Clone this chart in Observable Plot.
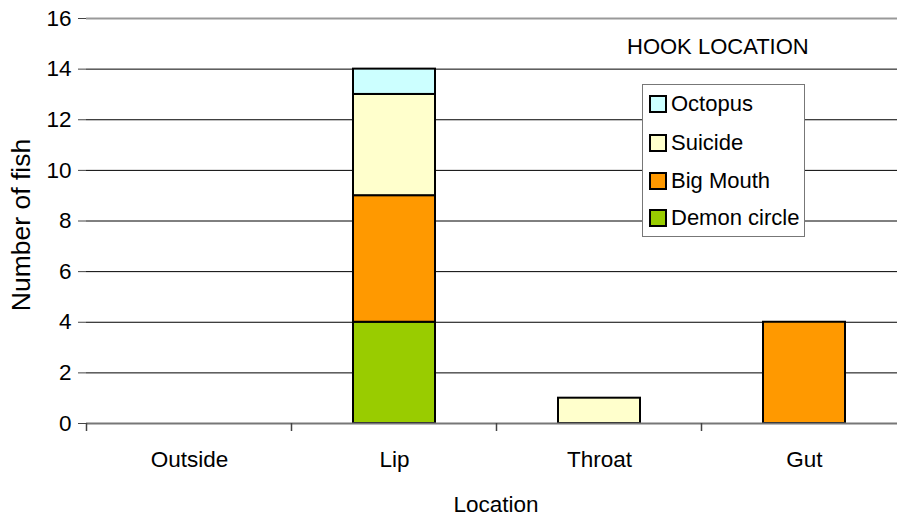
<!DOCTYPE html>
<html><head><meta charset="utf-8">
<script src="https://cdn.jsdelivr.net/npm/d3@7"></script>
<script src="https://cdn.jsdelivr.net/npm/@observablehq/plot@0.6"></script>
<style>
html,body{margin:0;padding:0;background:#fff;overflow:hidden;width:897px;height:519px}
#wrap{position:relative;width:897px;height:519px;overflow:hidden;font-family:"Liberation Sans",Arial,sans-serif;color:#000}
#wrap svg{position:absolute;left:0;top:0;max-width:none !important;width:906px;height:519px}
.lbl{position:absolute;font-size:22.5px;white-space:nowrap;line-height:1}
#legend{position:absolute;left:642px;top:84px;width:163px;height:153px;border:1px solid #777;background:#fff;box-sizing:border-box}
.item{position:absolute;left:6px;height:22px;display:flex;align-items:center;font-size:22px}
.sw{width:14px;height:14px;border:2px solid #000;margin-right:4px;flex:none}
</style></head><body><div id="wrap"></div>
<script>
const locations = ["Outside", "Lip", "Throat", "Gut"];
const hooks = ["Demon circle", "Big Mouth", "Suicide", "Octopus"];
const hookColors = ["#99CC00", "#FF9900", "#FFFFCC", "#CCFFFF"];
const demonCircle = [0, 4, 0, 0];
const bigMouth = [0, 5, 0, 4];
const suicide = [0, 4, 1, 0];
const octopus = [0, 1, 0, 0];
const yTicks = [0, 2, 4, 6, 8, 10, 12, 14, 16];
const chartTitle = "HOOK LOCATION";
const xTitle = "Location";
const yTitle = "Number of fish";

const seriesValues = [demonCircle, bigMouth, suicide, octopus];
const rows = [];
hooks.forEach((h, i) => locations.forEach((loc, j) => {
  if (seriesValues[i][j] > 0) rows.push({location: loc, hook: h, count: seriesValues[i][j]});
}));

const wrap = document.getElementById("wrap");
const chart = Plot.plot({
  width: 906, height: 519,
  marginLeft: 86, marginRight: 0, marginTop: 18, marginBottom: 96,
  style: {fontFamily: "'Liberation Sans', Arial, sans-serif", fontSize: "22.5px", color: "#000", background: "transparent", maxWidth: "none"},
  x: {type: "band", domain: locations, paddingInner: 0.6, paddingOuter: 0.3, label: null},
  y: {domain: [0, 16], label: null},
  color: {domain: hooks, range: hookColors},
  marks: [
    Plot.ruleY(yTicks.filter(d => d > 0 && d < 16), {stroke: "#000", strokeWidth: 1}),
    Plot.ruleY([16], {stroke: "#999", strokeWidth: 2}),
    Plot.barY(rows, {x: "location", y: "count", fill: "hook", stroke: "#000", strokeWidth: 2, order: hooks}),
    Plot.ruleY([0], {stroke: "#777", strokeWidth: 2}),
    Plot.ruleX([0], {frameAnchor: "left", stroke: "#444", strokeWidth: 2}),
    Plot.axisY({ticks: yTicks, tickSize: 8, tickPadding: 7, tickFormat: d => d, stroke: "#444", fontSize: 22.5, label: null}),
    Plot.axisX({tickSize: 0, tickPadding: 28, fontSize: 22.5, label: null})
  ]
});
wrap.appendChild(chart);

// category-boundary tick marks on the x axis, from the plot's band scale
const xs = chart.scale("x");
const gap = (xs.step - xs.bandwidth) / 2;
const bounds = locations.map(l => xs.apply(l) - gap);
bounds.push(xs.apply(locations[locations.length - 1]) + xs.bandwidth + gap);
const y0 = chart.scale("y").apply(0);
d3.select(chart).append("g").selectAll("line").data(bounds).join("line")
  .attr("x1", d => d).attr("x2", d => d).attr("y1", y0).attr("y2", y0 + 8)
  .attr("stroke", "#444").attr("stroke-width", 1.5);

// titles
const t = document.createElement("div");
t.className = "lbl"; t.textContent = chartTitle;
t.style.left = "627px"; t.style.top = "36px"; t.style.fontSize = "22px";
wrap.appendChild(t);
const xt = document.createElement("div");
xt.className = "lbl"; xt.textContent = xTitle;
xt.style.left = "496px"; xt.style.top = "494px"; xt.style.transform = "translateX(-50%)";
wrap.appendChild(xt);
const yt = document.createElement("div");
yt.className = "lbl"; yt.textContent = yTitle;
yt.style.left = "21px"; yt.style.top = "225px"; yt.style.fontSize = "26.5px";
yt.style.transform = "translate(-50%,-50%) rotate(-90deg)";
wrap.appendChild(yt);

// legend (top series first)
const leg = document.createElement("div");
leg.id = "legend";
const order = hooks.slice().reverse();
const rowsY = [8, 47, 85, 122];
order.forEach((h, i) => {
  const it = document.createElement("div");
  it.className = "item"; it.style.top = rowsY[i] + "px";
  const sw = document.createElement("div");
  sw.className = "sw"; sw.style.background = hookColors[hooks.indexOf(h)];
  it.appendChild(sw);
  it.appendChild(document.createTextNode(h));
  leg.appendChild(it);
});
wrap.appendChild(leg);
</script></body></html>
